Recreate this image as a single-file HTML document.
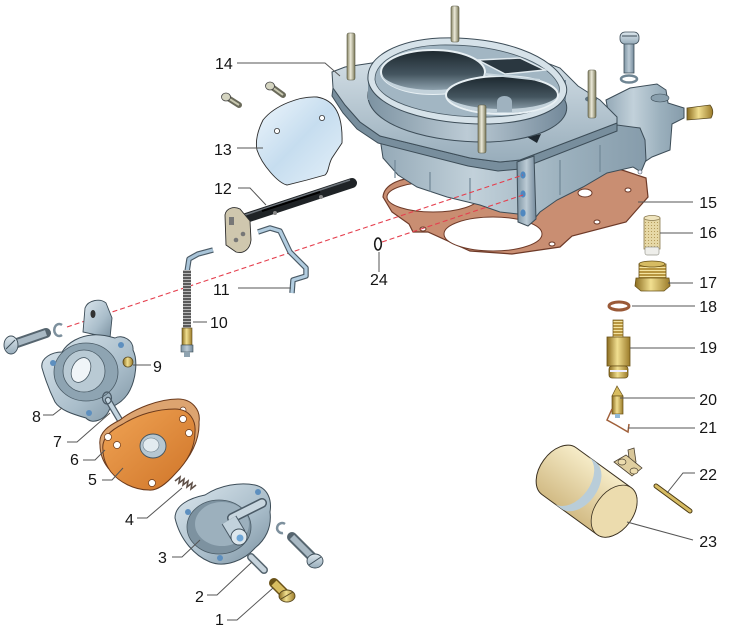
<!DOCTYPE html>
<html><head><meta charset="utf-8"><style>
html,body{margin:0;padding:0;background:#fff;}
svg{display:block;}
text{font-family:"Liberation Sans",sans-serif;font-size:16px;fill:#151515;}
</style></head><body>
<svg width="733" height="631" viewBox="0 0 733 631" xmlns="http://www.w3.org/2000/svg">
<defs>
 <linearGradient id="metal" x1="0" y1="0" x2="0" y2="1">
  <stop offset="0" stop-color="#dde7ed"/><stop offset="1" stop-color="#98adbb"/>
 </linearGradient>
 <linearGradient id="metal2" x1="0" y1="0" x2="1" y2="1">
  <stop offset="0" stop-color="#dce7ee"/><stop offset="0.6" stop-color="#a9bdca"/><stop offset="1" stop-color="#7a909f"/>
 </linearGradient>
 <linearGradient id="side" x1="0" y1="0" x2="1" y2="0">
  <stop offset="0" stop-color="#7d93a2"/><stop offset="0.5" stop-color="#bccbd5"/><stop offset="1" stop-color="#73899a"/>
 </linearGradient>
 <linearGradient id="body" x1="0" y1="0" x2="1" y2="0">
  <stop offset="0" stop-color="#94a9b7"/><stop offset="0.35" stop-color="#c2d1da"/><stop offset="0.7" stop-color="#9bb0bd"/><stop offset="1" stop-color="#869cab"/>
 </linearGradient>
 <linearGradient id="bore" x1="0" y1="0" x2="0" y2="1">
  <stop offset="0" stop-color="#1c272e"/><stop offset="0.55" stop-color="#44555f"/><stop offset="1" stop-color="#9fb3c0"/>
 </linearGradient>
 <linearGradient id="brass" x1="0" y1="0" x2="1" y2="0">
  <stop offset="0" stop-color="#8a6b1e"/><stop offset="0.45" stop-color="#f1df90"/><stop offset="1" stop-color="#9b7b2a"/>
 </linearGradient>
 <linearGradient id="stud" x1="0" y1="0" x2="1" y2="0">
  <stop offset="0" stop-color="#858363"/><stop offset="0.45" stop-color="#eceada"/><stop offset="1" stop-color="#7a7858"/>
 </linearGradient>
 <linearGradient id="glass" x1="0" y1="0" x2="1" y2="1">
  <stop offset="0" stop-color="#eef6fc"/><stop offset="0.5" stop-color="#c6ddef"/><stop offset="1" stop-color="#e4f0f9"/>
 </linearGradient>
 <linearGradient id="float" x1="0" y1="0" x2="0" y2="1">
  <stop offset="0" stop-color="#f6ecc8"/><stop offset="1" stop-color="#d2bb85"/>
 </linearGradient>
 <linearGradient id="orange" x1="0" y1="0" x2="1" y2="1">
  <stop offset="0" stop-color="#f0a455"/><stop offset="1" stop-color="#cf7428"/>
 </linearGradient>
 <pattern id="thr" width="4" height="3" patternUnits="userSpaceOnUse">
  <rect width="4" height="3" fill="#5a5a5a"/><rect width="4" height="1" fill="#b8b8b8"/>
 </pattern>
 <pattern id="bthr" width="4" height="3" patternUnits="userSpaceOnUse">
  <rect width="4" height="3" fill="#b89640"/><rect width="4" height="1" fill="#f3e3a0"/>
 </pattern>
 <pattern id="mesh" width="3" height="3" patternUnits="userSpaceOnUse">
  <rect width="3" height="3" fill="#e6d8a6"/><rect width="1" height="1" fill="#b59c5c"/>
 </pattern>
</defs>

<!-- ===== Gasket 15 ===== -->
<path d="M383,197 C384,184 402,177 420,178 L470,188 L600,166 L622,170 L646,178 L648,197 L626,222 L572,236 L560,247 L512,254 L470,251 L428,232 L413,232 L409,224 L392,212 Z" fill="#c98e72" stroke="#6e3a28" stroke-width="1.2"/>
<ellipse cx="433" cy="197" rx="46" ry="15" fill="#fff" stroke="#6e3a28"/>
<ellipse cx="493" cy="234" rx="49" ry="17" fill="#fff" stroke="#6e3a28"/>
<ellipse cx="585" cy="193" rx="7" ry="4" fill="#fff" stroke="#6e3a28"/>
<ellipse cx="628" cy="190" rx="3" ry="2" fill="#fff" stroke="#6e3a28"/>
<ellipse cx="597" cy="222" rx="3" ry="2" fill="#fff" stroke="#6e3a28"/>
<ellipse cx="552" cy="244" rx="3" ry="2" fill="#fff" stroke="#6e3a28"/>
<ellipse cx="423" cy="229" rx="3" ry="2" fill="#fff" stroke="#6e3a28"/>

<!-- ===== Carburettor body 14 ===== -->
<path d="M606,100 L630,88 L657,84 L666,90 L668,103 L684,108 L684,118 L672,124 L670,150 L652,157 L640,165 L615,150 Z" fill="url(#body)" stroke="#3d4d58" stroke-width="1"/>
<ellipse cx="660" cy="98" rx="9" ry="4" fill="#8aa0ae" stroke="#3d4d58" stroke-width="0.6"/>
<path d="M687,108 L710,105 Q715,111 711,118 L687,120 Z" fill="url(#brass)" stroke="#5a4a20" stroke-width="0.8"/>
<path d="M380,138 L383,158 L398,175 L417,187 L447,197 L480,205 L500,212 L518,214 L530,224 L540,212 L557,200 L583,187 L607,173 L633,167 L641,172 L646,160 L645,140 L640,128 L617,125 L520,163 Z" fill="url(#body)" stroke="#3d4d58" stroke-width="1"/>
<path d="M395,160 L395,178 M430,172 L430,192 M470,178 L470,200 M560,160 L560,195 M600,145 L600,172" stroke="#708796" stroke-width="1.2"/>
<circle cx="640" cy="172" r="2" fill="#eef" stroke="#3d4d58" stroke-width="0.6"/>
<path d="M333,88 L345,105 L360,122 L380,136 L470,158 L500,162 L520,160 L617,123 L617,131 L520,169 L498,171 L468,166 L378,143 L357,129 L343,113 L332,96 Z" fill="#788e9d" stroke="#3d4d58" stroke-width="1"/>
<path d="M332,72 L345,67 L372,63 L430,40 L500,45 L560,68 L578,86 L600,100 L617,117 L617,123 L520,160 L500,162 L470,158 L380,136 L360,122 L345,105 L333,88 Z" fill="url(#metal)" stroke="#3d4d58" stroke-width="1"/>
<path d="M527,137 L541,134 L537,143 Z" fill="#1e2830"/>
<ellipse cx="591" cy="99" rx="6" ry="3" fill="#5f7482"/>
<path d="M368,98 C366,73 400,58 440,56 C500,54 555,73 566,103 C572,123 540,140 490,142 C430,143 372,126 368,98 Z" fill="url(#side)" stroke="#3d4d58" stroke-width="1"/>
<rect x="368" y="80" width="198" height="20" fill="url(#side)"/>
<path d="M368,80 C366,55 400,40 440,38 C500,36 555,55 566,85 C572,105 540,122 490,124 C430,125 372,108 368,80 Z" fill="#d6e2e9" stroke="#3d4d58" stroke-width="1"/>
<path d="M375,80 C374,60 405,46 440,45 C498,44 549,61 559,86 C563,103 535,116 490,117 C433,118 378,103 375,80 Z" fill="#a2b6c3" stroke="#4a5b66" stroke-width="0.8"/>
<ellipse cx="433" cy="72" rx="52" ry="22" fill="url(#bore)" stroke="#e8f0f4" stroke-width="2"/>
<path d="M381,74 C385,88 410,94 433,94 C456,94 480,88 485,74 C480,84 456,90 433,90 C410,90 386,84 381,74 Z" fill="#c3d2db"/>
<path d="M478,60 L520,58 L545,70 L505,74 Z" fill="#2a3740" stroke="#e1eaef" stroke-width="1.5"/>
<ellipse cx="502" cy="95" rx="56" ry="19" fill="url(#bore)" stroke="#e8f0f4" stroke-width="2"/>
<path d="M447,97 C452,107 475,113 502,113 C530,113 553,107 557,97 C550,104 530,109 502,109 C476,109 454,104 447,97 Z" fill="#c3d2db"/>
<path d="M497,112 L497,102 C497,94 512,94 512,102 L512,112 Z" fill="#9fb2bf"/>
<path d="M485,74 L540,80" stroke="#c8d6de" stroke-width="2"/>
<rect x="347" y="33" width="8" height="47" rx="2" fill="url(#stud)" stroke="#555540" stroke-width="0.6"/>
<rect x="451" y="6" width="8" height="36" rx="2" fill="url(#stud)" stroke="#555540" stroke-width="0.6"/>
<rect x="588" y="70" width="8" height="48" rx="2" fill="url(#stud)" stroke="#555540" stroke-width="0.6"/>
<rect x="478" y="105" width="8" height="48" rx="2" fill="url(#stud)" stroke="#555540" stroke-width="0.6"/>
<path d="M517,162 L534,156 L536,219 L528,226 L518,222 Z" fill="url(#side)" stroke="#3d4d58" stroke-width="1"/>
<ellipse cx="523" cy="175" rx="2.6" ry="3.6" fill="#4f88c0"/>
<ellipse cx="523" cy="194" rx="2.6" ry="3.6" fill="#4f88c0"/>
<ellipse cx="523" cy="213" rx="2.6" ry="3.6" fill="#4f88c0"/>

<!-- top-right screw -->
<rect x="624" y="42" width="10" height="31" fill="url(#side)" stroke="#3d4d58" stroke-width="0.8"/>
<rect x="620" y="32" width="19" height="12" rx="5" fill="url(#metal)" stroke="#3d4d58" stroke-width="0.8"/>
<line x1="622" y1="36" x2="637" y2="36" stroke="#3d4d58" stroke-width="1"/>
<ellipse cx="629" cy="79" rx="8" ry="3.5" fill="none" stroke="#6f8593" stroke-width="2.5"/>

<!-- ===== red dashed lines ===== -->
<line x1="67" y1="327" x2="523" y2="175" stroke="#e5404f" stroke-width="1.1" stroke-dasharray="5 3"/>
<line x1="382" y1="242" x2="523" y2="195" stroke="#e5404f" stroke-width="1.1" stroke-dasharray="5 3"/>
<ellipse cx="378" cy="244" rx="3.3" ry="6" fill="none" stroke="#1a1a1a" stroke-width="1.6"/>

<!-- ===== 13 plate ===== -->
<path d="M263,120 C275,105 300,96 317,97 C335,100 343,115 342,143 L332,158 C328,165 329,172 325,175 L307,180 L287,185 C278,183 262,165 257,150 C255,140 258,130 263,120 Z" fill="url(#glass)" stroke="#2c2c2c" stroke-width="0.9"/>
<circle cx="277" cy="131" r="2.6" fill="#fff" stroke="#333" stroke-width="0.8"/>
<circle cx="322" cy="118" r="2.6" fill="#fff" stroke="#333" stroke-width="0.8"/>
<line x1="228" y1="98" x2="239" y2="105" stroke="#6a6a5a" stroke-width="6" stroke-linecap="round"/>
<line x1="228" y1="98" x2="239" y2="105" stroke="#c8c8b0" stroke-width="2"/>
<ellipse cx="226" cy="97" rx="4.5" ry="4" fill="#d4d4c0" stroke="#444" stroke-width="0.8"/>
<line x1="272" y1="87" x2="283" y2="95" stroke="#6a6a5a" stroke-width="6" stroke-linecap="round"/>
<line x1="272" y1="87" x2="283" y2="95" stroke="#c8c8b0" stroke-width="2"/>
<ellipse cx="270" cy="86" rx="4.5" ry="4" fill="#d4d4c0" stroke="#444" stroke-width="0.8"/>

<!-- ===== 12 shaft ===== -->
<line x1="240" y1="220" x2="352" y2="183" stroke="#1f2326" stroke-width="10" stroke-linecap="round"/>
<line x1="242" y1="216" x2="350" y2="180" stroke="#6d747b" stroke-width="1.5"/>
<line x1="262" y1="211" x2="320" y2="192" stroke="#000" stroke-width="2"/>
<circle cx="275" cy="213" r="2" fill="#888"/>
<circle cx="321" cy="197" r="2" fill="#888"/>
<path d="M225,215 C226,208 234,206 240,209 L250,221 L251,240 C250,250 243,254 236,252 L226,245 Z" fill="#cfc7ae" stroke="#2c2c2c" stroke-width="0.9"/>
<rect x="229" y="217" width="5" height="8" fill="#777"/>
<circle cx="236" cy="240" r="2.3" fill="#777"/>
<circle cx="243" cy="234" r="2.3" fill="#777"/>

<!-- ===== 11 wire ===== -->
<polyline points="258,232 270,228 280,231 290,252 306,268 306,276 293,280 292,293" fill="none" stroke="#4a5a66" stroke-width="5.5" stroke-linejoin="round"/>
<polyline points="258,232 270,228 280,231 290,252 306,268 306,276 293,280 292,293" fill="none" stroke="#b2cde0" stroke-width="3.2" stroke-linejoin="round"/>

<!-- ===== 10 rod ===== -->
<polyline points="213,250 198,254 189,259 187,272" fill="none" stroke="#4a5a66" stroke-width="5.5" stroke-linejoin="round"/>
<polyline points="213,250 198,254 189,259 187,272" fill="none" stroke="#a9c4d8" stroke-width="3.2" stroke-linejoin="round"/>
<rect x="183" y="270" width="8" height="60" fill="url(#thr)"/>
<rect x="182" y="328" width="10" height="17" fill="url(#brass)" stroke="#5a4a20" stroke-width="0.6"/>
<rect x="181" y="345" width="12" height="7" fill="url(#side)" stroke="#3d4d58" stroke-width="0.6"/>
<rect x="184" y="352" width="6" height="5" fill="#8fa3b0"/>

<!-- ===== left screw & washer ===== -->
<line x1="14" y1="344" x2="46" y2="333" stroke="#56656f" stroke-width="10" stroke-linecap="round"/>
<line x1="14" y1="344" x2="46" y2="333" stroke="#a9b9c4" stroke-width="6"/>
<ellipse cx="11" cy="345" rx="7" ry="9" fill="url(#metal)" stroke="#3d4d58" stroke-width="0.9"/>
<line x1="6" y1="349" x2="15" y2="340" stroke="#3d4d58" stroke-width="1"/>
<path d="M62,325 A5,6 0 1 0 62,335" fill="none" stroke="#7d909d" stroke-width="2.5"/>

<!-- ===== 8 cover ===== -->
<path d="M83,332 L85,308 C88,300 100,298 106,303 L112,318 L110,338 Z" fill="url(#metal2)" stroke="#3d4d58" stroke-width="0.9"/>
<ellipse cx="93" cy="314" rx="2.5" ry="4" fill="#333"/>
<path d="M42,368 C40,358 52,352 62,352 C68,342 80,336 92,335 C100,334 108,336 115,338 C122,334 134,340 133,350 C138,360 136,378 130,390 C125,400 118,404 110,408 C106,420 92,425 86,418 C72,414 60,410 55,402 C50,392 46,382 42,368 Z" fill="url(#metal2)" stroke="#3d4d58" stroke-width="1"/>
<ellipse cx="86" cy="372" rx="32" ry="29" fill="#8ea4b2" stroke="#4a5b66" stroke-width="0.8"/>
<ellipse cx="84" cy="371" rx="21" ry="21" fill="#b9cad4" stroke="#4a5b66" stroke-width="0.8"/>
<ellipse cx="81" cy="370" rx="9" ry="13" fill="#f0f5f8" stroke="#4a5b66" stroke-width="0.8" transform="rotate(25 81 370)"/>
<circle cx="53" cy="363" r="3" fill="#5d8fbf"/>
<circle cx="121" cy="345" r="3" fill="#5d8fbf"/>
<circle cx="89" cy="413" r="3" fill="#5d8fbf"/>
<circle cx="128" cy="362" r="5" fill="url(#brass)" stroke="#5a4a20" stroke-width="0.8"/>

<!-- ===== 7 rod ===== -->
<line x1="108" y1="400" x2="127" y2="432" stroke="#4a5a66" stroke-width="6.5" stroke-linecap="round"/>
<line x1="108" y1="400" x2="127" y2="432" stroke="#c3d4df" stroke-width="4" stroke-linecap="round"/>
<ellipse cx="107" cy="398" rx="4.5" ry="6" fill="none" stroke="#4a5a66" stroke-width="1.2"/>

<!-- ===== 6 gasket ===== -->
<path d="M100,445 C98,432 110,425 120,420 C135,408 160,399 178,399 C192,399 201,410 199,422 C200,440 190,458 178,470 C170,480 160,488 150,487 C135,487 118,478 108,468 C102,460 100,452 100,445 Z" fill="#dda470" stroke="#6b3a1c" stroke-width="1"/>
<circle cx="183" cy="410" r="3" fill="#fff" stroke="#6b3a1c" stroke-width="0.7"/>
<!-- ===== 5 diaphragm ===== -->
<path d="M103,450 C101,438 111,430 123,424 C139,414 158,409 175,409 C190,409 196,421 195,432 C195,448 187,462 175,474 C167,483 157,491 149,490 C134,490 119,482 111,472 C105,464 103,456 103,450 Z" fill="url(#orange)" stroke="#6b3a1c" stroke-width="1"/>
<circle cx="108" cy="437" r="3.5" fill="#fff" stroke="#6b3a1c" stroke-width="0.7"/>
<circle cx="117" cy="445" r="3.5" fill="#fff" stroke="#6b3a1c" stroke-width="0.7"/>
<circle cx="183" cy="419" r="3.5" fill="#fff" stroke="#6b3a1c" stroke-width="0.7"/>
<circle cx="189" cy="433" r="3.5" fill="#fff" stroke="#6b3a1c" stroke-width="0.7"/>
<circle cx="152" cy="483" r="3.5" fill="#fff" stroke="#6b3a1c" stroke-width="0.7"/>
<ellipse cx="153" cy="446" rx="13" ry="12" fill="#b6c7d2" stroke="#445560" stroke-width="0.9"/>
<ellipse cx="151" cy="445" rx="8" ry="7" fill="#e2ebf0" stroke="#6a7c88" stroke-width="0.6"/>

<!-- ===== 4 spring ===== -->
<path d="M175,481 l5,-4 l-1,6 l5,-4 l-1,6 l5,-4 l-1,6 l5,-4 l-1,6 l5,-4" fill="none" stroke="#5f5048" stroke-width="1.6"/>

<!-- ===== 3 cover ===== -->
<path d="M175,518 C175,505 190,498 205,495 C220,485 240,482 255,485 C268,488 272,500 270,512 C272,528 265,540 255,548 C245,560 225,568 210,562 C195,556 180,540 175,518 Z" fill="url(#metal2)" stroke="#3d4d58" stroke-width="1"/>
<ellipse cx="219" cy="527" rx="32" ry="27" fill="#7d92a0" stroke="#4a5b66" stroke-width="0.8"/>
<ellipse cx="222" cy="524" rx="27" ry="22" fill="#9cb0bd"/>
<line x1="232" y1="518" x2="262" y2="503" stroke="#4a5a66" stroke-width="10" stroke-linecap="round"/>
<line x1="232" y1="518" x2="262" y2="503" stroke="#c8d6df" stroke-width="7" stroke-linecap="round"/>
<line x1="229" y1="520" x2="238" y2="535" stroke="#4a5a66" stroke-width="17"/>
<line x1="229" y1="520" x2="238" y2="535" stroke="#c2d2dc" stroke-width="15"/>
<ellipse cx="239" cy="537" rx="8" ry="8" fill="#dde7ed" stroke="#3d4d58" stroke-width="0.9"/>
<circle cx="240" cy="538" r="3.5" fill="#6fa6d6"/>
<circle cx="188" cy="512" r="3" fill="#5d8fbf"/>
<circle cx="258" cy="492" r="3" fill="#5d8fbf"/>
<circle cx="220" cy="558" r="3" fill="#5d8fbf"/>
<path d="M285,524 A5,5 0 1 0 283,533" fill="none" stroke="#7d909d" stroke-width="2.5"/>
<line x1="292" y1="537" x2="313" y2="558" stroke="#56656f" stroke-width="10" stroke-linecap="round"/>
<line x1="292" y1="537" x2="313" y2="558" stroke="#a9b9c4" stroke-width="6"/>
<ellipse cx="315" cy="561" rx="8" ry="7" fill="url(#metal)" stroke="#3d4d58" stroke-width="0.9"/>
<line x1="309" y1="565" x2="321" y2="557" stroke="#3d4d58" stroke-width="1"/>
<line x1="251" y1="557" x2="264" y2="570" stroke="#56656f" stroke-width="8" stroke-linecap="round"/>
<line x1="251" y1="557" x2="264" y2="570" stroke="#c6d3dc" stroke-width="5" stroke-linecap="round"/>
<line x1="274" y1="583" x2="284" y2="593" stroke="#6a5218" stroke-width="10" stroke-linecap="round"/>
<line x1="274" y1="583" x2="284" y2="593" stroke="#d8bd60" stroke-width="7"/>
<ellipse cx="287" cy="596" rx="8" ry="6" fill="url(#brass)" stroke="#5a4a20" stroke-width="0.9"/>
<line x1="281" y1="599" x2="293" y2="592" stroke="#5a4a20" stroke-width="1"/>

<!-- ===== right column parts ===== -->
<rect x="644" y="218" width="16" height="31" fill="url(#mesh)" stroke="#8a7a50" stroke-width="0.8"/>
<ellipse cx="652" cy="218" rx="8" ry="2.5" fill="#efe4bd" stroke="#8a7a50" stroke-width="0.7"/>
<rect x="645" y="247" width="14" height="8" rx="2" fill="#eeeeea" stroke="#9a9a90" stroke-width="0.7"/>
<rect x="639" y="264" width="27" height="14" fill="url(#bthr)" stroke="#6a5218" stroke-width="0.8"/>
<ellipse cx="652" cy="264" rx="13" ry="3" fill="#d6bb62" stroke="#6a5218" stroke-width="0.8"/>
<path d="M636,278 L669,278 L670,286 L664,291 L641,291 L635,286 Z" fill="url(#brass)" stroke="#6a5218" stroke-width="0.8"/>
<ellipse cx="619" cy="306" rx="10" ry="4" fill="none" stroke="#9a5a38" stroke-width="3"/>
<rect x="613" y="320" width="10" height="18" fill="url(#bthr)" stroke="#6a5218" stroke-width="0.7"/>
<rect x="607" y="337" width="23" height="29" fill="url(#brass)" stroke="#6a5218" stroke-width="0.8"/>
<rect x="609" y="366" width="19" height="12" rx="3" fill="url(#brass)" stroke="#6a5218" stroke-width="0.8"/>
<line x1="610" y1="371" x2="627" y2="371" stroke="#eef" stroke-width="2"/>
<path d="M617,386 L612,396 L623,396 Z" fill="#d8bd60" stroke="#6a5218" stroke-width="0.7"/>
<rect x="612" y="396" width="11" height="18" fill="url(#brass)" stroke="#6a5218" stroke-width="0.7"/>
<rect x="615" y="414" width="5" height="4" fill="#8fb8d8"/>
<path d="M612,409 L607,420 L616,425 L628,432 L629,424" fill="none" stroke="#a0603a" stroke-width="1.5"/>

<!-- 23 float -->
<g transform="translate(585,490) rotate(36)">
 <path d="M-32,-29 L36,-29 A19,29 0 0 1 36,29 L-32,29 A19,29 0 0 1 -32,-29 Z" fill="url(#float)" stroke="#3a3020" stroke-width="1"/>
 <path d="M-17,-29 L-8,-29 A19,29 0 0 1 -8,29 L-17,29 A19,29 0 0 0 -17,-29 Z" fill="#b9cdd9"/>
 <ellipse cx="36" cy="0" rx="19" ry="29" fill="#ecdcae" stroke="#3a3020" stroke-width="0.8"/>
</g>
<path d="M628,450 L634,448 L636,462 L630,466 Z" fill="#d9c79a" stroke="#4a4030" stroke-width="0.8"/>
<path d="M614,462 L626,455 L642,468 L632,476 Z" fill="#e0cfa0" stroke="#4a4030" stroke-width="0.8"/>
<ellipse cx="622" cy="462" rx="4" ry="3" fill="#ecdcae" stroke="#4a4030" stroke-width="0.7"/>
<ellipse cx="634" cy="471" rx="4" ry="3" fill="#ecdcae" stroke="#4a4030" stroke-width="0.7"/>
<line x1="656" y1="486" x2="690" y2="511" stroke="#4a3a14" stroke-width="5" stroke-linecap="round"/>
<line x1="656" y1="486" x2="690" y2="511" stroke="#d6bb62" stroke-width="3" stroke-linecap="round"/>

<!-- ===== leader lines ===== -->
<g fill="none" stroke="#555" stroke-width="1">
 <polyline points="237,63 325,63 340,76"/>
 <line x1="237" y1="148" x2="263" y2="148"/>
 <polyline points="238,188 250,188 266,205"/>
 <line x1="238" y1="288" x2="291" y2="288"/>
 <line x1="193" y1="322" x2="207" y2="322"/>
 <line x1="133" y1="365" x2="151" y2="365"/>
 <polyline points="43,415 53,415 62,408"/>
 <polyline points="67,442 77,442 110,413"/>
 <polyline points="83,460 95,460 105,450"/>
 <polyline points="102,480 112,480 123,468"/>
 <polyline points="137,518 147,518 182,488"/>
 <polyline points="172,557 182,557 200,540"/>
 <polyline points="207,595 217,595 252,562"/>
 <polyline points="227,620 237,620 273,588"/>
 <line x1="379" y1="252" x2="379" y2="272"/>
 <line x1="638" y1="202" x2="693" y2="202"/>
 <line x1="660" y1="233" x2="693" y2="233"/>
 <line x1="668" y1="283" x2="693" y2="283"/>
 <line x1="632" y1="306" x2="695" y2="306"/>
 <line x1="630" y1="348" x2="695" y2="348"/>
 <line x1="620" y1="398" x2="695" y2="398"/>
 <line x1="628" y1="428" x2="695" y2="428"/>
 <polyline points="695,473 683,473 667,493"/>
 <line x1="627" y1="522" x2="693" y2="540"/>
</g>

<!-- ===== labels ===== -->
<text x="215" y="69">14</text>
<text x="214" y="155">13</text>
<text x="214" y="194">12</text>
<text x="213" y="295">11</text>
<text x="210" y="328">10</text>
<text x="153" y="372">9</text>
<text x="32" y="422">8</text>
<text x="53" y="447">7</text>
<text x="70" y="465">6</text>
<text x="88" y="485">5</text>
<text x="125" y="525">4</text>
<text x="158" y="563">3</text>
<text x="195" y="602">2</text>
<text x="215" y="625">1</text>
<text x="370" y="285">24</text>
<g text-anchor="end">
<text x="717" y="208">15</text>
<text x="717" y="238">16</text>
<text x="717" y="288">17</text>
<text x="717" y="312">18</text>
<text x="717" y="353">19</text>
<text x="717" y="405">20</text>
<text x="717" y="433">21</text>
<text x="717" y="480">22</text>
<text x="717" y="547">23</text>
</g>
</svg>
</body></html>
